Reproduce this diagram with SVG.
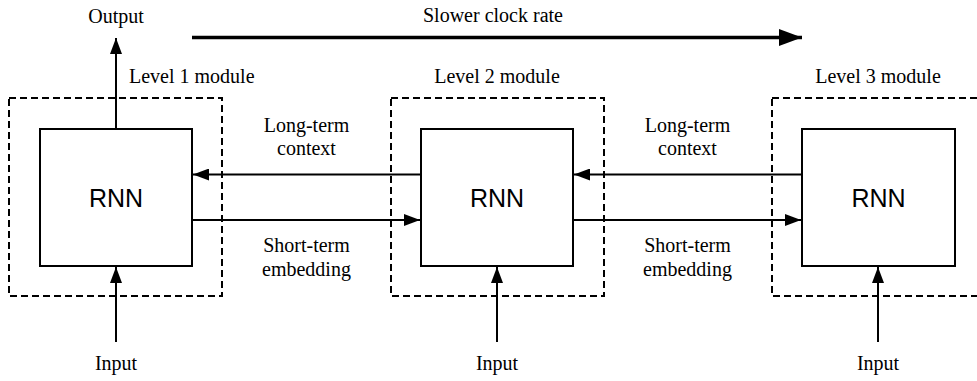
<svg xmlns="http://www.w3.org/2000/svg" width="977" height="381" viewBox="0 0 977 381">
<style>
.t{font-family:'Liberation Serif','Times New Roman',Times,'DejaVu Serif',serif;font-size:20px;fill:#000}
.c{text-anchor:middle}
.r{font-family:'Liberation Sans',Arial,Helvetica,sans-serif;font-size:25px;text-anchor:middle;fill:#000}
.box{fill:#fff;stroke:#000;stroke-width:2}
.dash{fill:none;stroke:#000;stroke-width:2;stroke-dasharray:7,4}
.ln{fill:none;stroke:#000;stroke-width:2;marker-end:url(#ah)}
</style>
<defs>
<marker id="ah" viewBox="0 0 16 12" refX="16" refY="6" markerWidth="16" markerHeight="12" markerUnits="userSpaceOnUse" orient="auto">
<path d="M0,0 L16,6 L0,12 z" fill="#000"/>
</marker>
<marker id="big" viewBox="0 0 23 17" refX="23" refY="8.5" markerWidth="23" markerHeight="17" markerUnits="userSpaceOnUse" orient="auto">
<path d="M0,0 L23,8.5 L0,17 z" fill="#000"/>
</marker>
</defs>
<rect width="977" height="381" fill="#fff"/>
<g id="clock">
<line x1="192" y1="37.5" x2="802" y2="37.5" stroke="#000" stroke-width="3.5" marker-end="url(#big)"/>
<text class="t" font-family="Liberation Serif, serif" x="423" y="22">Slower clock rate</text>
</g>
<g id="level1">
<rect class="dash" x="9" y="98" width="213" height="198"/>
<text class="t" font-family="Liberation Serif, serif" x="129" y="83">Level 1 module</text>
<rect class="box" x="40" y="129" width="152" height="137"/>
<text class="r" x="116" y="206.5">RNN</text>
</g>
<g id="level2">
<rect class="dash" x="391" y="98" width="213" height="198"/>
<text class="t c" font-family="Liberation Serif, serif" x="497" y="83">Level 2 module</text>
<rect class="box" x="421" y="129" width="152" height="137"/>
<text class="r" x="497" y="206.5">RNN</text>
</g>
<g id="level3">
<rect class="dash" x="772" y="98" width="213" height="198"/>
<text class="t c" font-family="Liberation Serif, serif" x="878" y="83">Level 3 module</text>
<rect class="box" x="802" y="129" width="153" height="137"/>
<text class="r" x="878.5" y="206.5">RNN</text>
</g>
<g id="io" font-family="Liberation Serif, serif">
<text class="t c" x="116" y="23">Output</text>
<text class="t c" x="116" y="370">Input</text>
<text class="t c" x="497" y="370">Input</text>
<text class="t c" x="878" y="370">Input</text>
</g>
<g id="labels" font-family="Liberation Serif, serif">
<text class="t c" x="306.5" y="132">Long-term</text>
<text class="t c" x="306.5" y="155">context</text>
<text class="t c" x="306.5" y="252">Short-term</text>
<text class="t c" x="306.5" y="276">embedding</text>
<text class="t c" x="687.5" y="132">Long-term</text>
<text class="t c" x="687.5" y="155">context</text>
<text class="t c" x="687.5" y="252">Short-term</text>
<text class="t c" x="687.5" y="276">embedding</text>
</g>
<g id="connectors">
<line class="ln" x1="116" y1="129" x2="116" y2="38"/>
<line class="ln" x1="116" y1="342" x2="116" y2="267"/>
<line class="ln" x1="497" y1="342" x2="497" y2="267"/>
<line class="ln" x1="878" y1="342" x2="878" y2="267"/>
<line class="ln" x1="421" y1="174.5" x2="193" y2="174.5"/>
<line class="ln" x1="192" y1="220" x2="420" y2="220"/>
<line class="ln" x1="802" y1="174.5" x2="574" y2="174.5"/>
<line class="ln" x1="573" y1="220" x2="801" y2="220"/>
</g>
</svg>
